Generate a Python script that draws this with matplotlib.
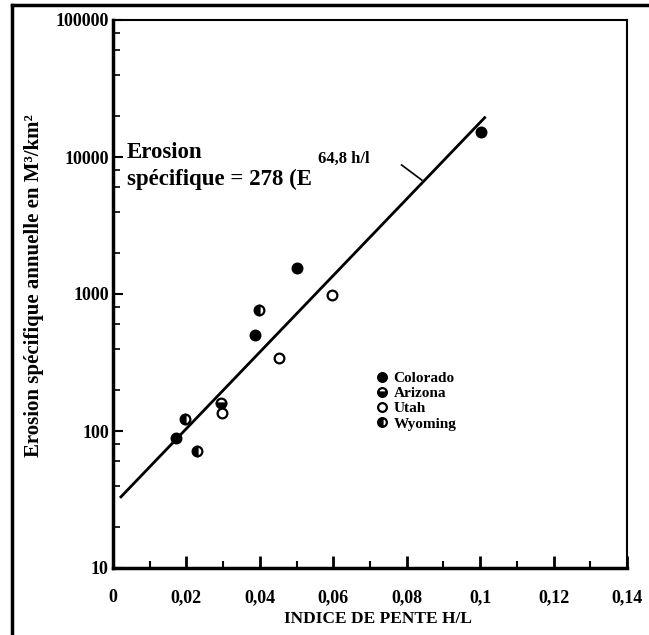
import numpy as np
import matplotlib
matplotlib.use("Agg")
import matplotlib.pyplot as plt
from matplotlib.lines import Line2D
from matplotlib.ticker import FixedLocator, LogLocator, NullFormatter

# ── data ─────────────────────────────────────────────────────────────────────
colorado_x = [0.0172, 0.0386, 0.0501, 0.1001]
colorado_y = [89, 502, 1545, 15100]
arizona_x = [0.0295]
arizona_y = [160]
utah_x = [0.0297, 0.0451, 0.0597]
utah_y = [135, 340, 985]
wyoming_x = [0.0196, 0.0230, 0.0399]
wyoming_y = [122, 72, 765]

fit_x = [0.0019, 0.1015]
fit_y = [32.5, 19700]
leader_x = [0.0786, 0.0841]
leader_y = [8750, 6790]

x_ticks = [0, 0.02, 0.04, 0.06, 0.08, 0.10, 0.12, 0.14]
x_tick_labels = ["0", "0,02", "0,04", "0,06", "0,08", "0,1", "0,12", "0,14"]
y_ticks = [10, 100, 1000, 10000, 100000]
y_tick_labels = ["10", "100", "1000", "10000", "100000"]

SERIF = "Liberation Serif"

# ── figure ───────────────────────────────────────────────────────────────────
fig = plt.figure(figsize=(6.49, 6.35), dpi=100)
ax = fig.add_axes([113 / 649, 1 - 568 / 635, 514 / 649, 548 / 635])

ax.set_yscale("log")
ax.set_xlim(0, 0.14)
ax.set_ylim(10, 100000)

# regression line + leader line
ax.plot(fit_x, fit_y, color="black", lw=2, solid_capstyle="butt")
ax.plot(leader_x, leader_y, color="black", lw=1.2)

# points per state
mk = dict(marker="o", ms=7, mec="black", mew=1.6, color="black", ls="none")
ax.plot(colorado_x, colorado_y, label="Colorado", mfc="black", **mk)
ax.plot(arizona_x, arizona_y, label="Arizona", fillstyle="bottom",
        mfcalt="white", **mk)
ax.plot(utah_x, utah_y, label="Utah", mfc="white", **mk)
ax.plot(wyoming_x, wyoming_y, label="Wyoming", fillstyle="left",
        mfcalt="white", **mk)

leg = ax.legend(loc="upper left", bbox_to_anchor=(0.512, 0.359),
                frameon=False, handlelength=0.8, handletextpad=0.35,
                labelspacing=0.1, borderpad=0, borderaxespad=0,
                numpoints=1, markerscale=0.9,
                prop=dict(family=SERIF, weight="bold", size=11))

# formula text
txt = dict(family=SERIF, weight="bold", color="black", transform=ax.transAxes)
ax.text(0.027, 0.748, "Erosion", fontsize=16.5, va="baseline", **txt)
ax.text(0.027, 0.699, "spécifique = 278 (E", fontsize=16.5, va="baseline", **txt)
ax.text(0.399, 0.739, "64,8 h/l", fontsize=12, va="baseline", **txt)

# ticks
ax.xaxis.set_major_locator(FixedLocator(x_ticks))
ax.set_xticklabels(x_tick_labels)
ax.xaxis.set_minor_locator(FixedLocator(np.arange(0.01, 0.14, 0.02)))
ax.yaxis.set_major_locator(FixedLocator(y_ticks))
ax.set_yticklabels(y_tick_labels)
ax.yaxis.set_minor_locator(LogLocator(base=10, subs=(2, 4, 6, 8)))
ax.yaxis.set_minor_formatter(NullFormatter())

ax.tick_params(axis="x", which="major", direction="in", length=9, width=2,
               pad=15, labelsize=13)
ax.tick_params(axis="x", which="minor", direction="in", length=5, width=1.5)
ax.tick_params(axis="y", which="major", direction="in", length=7, width=1.5,
               pad=3, labelsize=13)
ax.tick_params(axis="y", which="minor", direction="in", length=5, width=1.2)
for lab in ax.get_xticklabels() + ax.get_yticklabels():
    lab.set_family(SERIF)
    lab.set_weight("bold")

for side in ["left", "bottom"]:
    ax.spines[side].set_linewidth(2.5)
for side in ["top", "right"]:
    ax.spines[side].set_linewidth(1.5)

ax.set_xlabel("INDICE DE PENTE H/L", family=SERIF, weight="bold",
              fontsize=12.5)
ax.xaxis.set_label_coords(0.515, -0.079)
ax.set_ylabel("Erosion spécifique annuelle en M³/km²", family=SERIF,
              weight="bold", fontsize=15)
ax.yaxis.set_label_coords(-0.135, 0.516)

# outer frame of the scanned page
fig.add_artist(Line2D([12 / 649, 12 / 649], [0, 1 - 5 / 635], color="black",
                      lw=2.5, transform=fig.transFigure))
fig.add_artist(Line2D([12 / 649, 1], [1 - 5 / 635, 1 - 5 / 635], color="black",
                      lw=2.5, transform=fig.transFigure))

fig.savefig("out.png", dpi=100)
